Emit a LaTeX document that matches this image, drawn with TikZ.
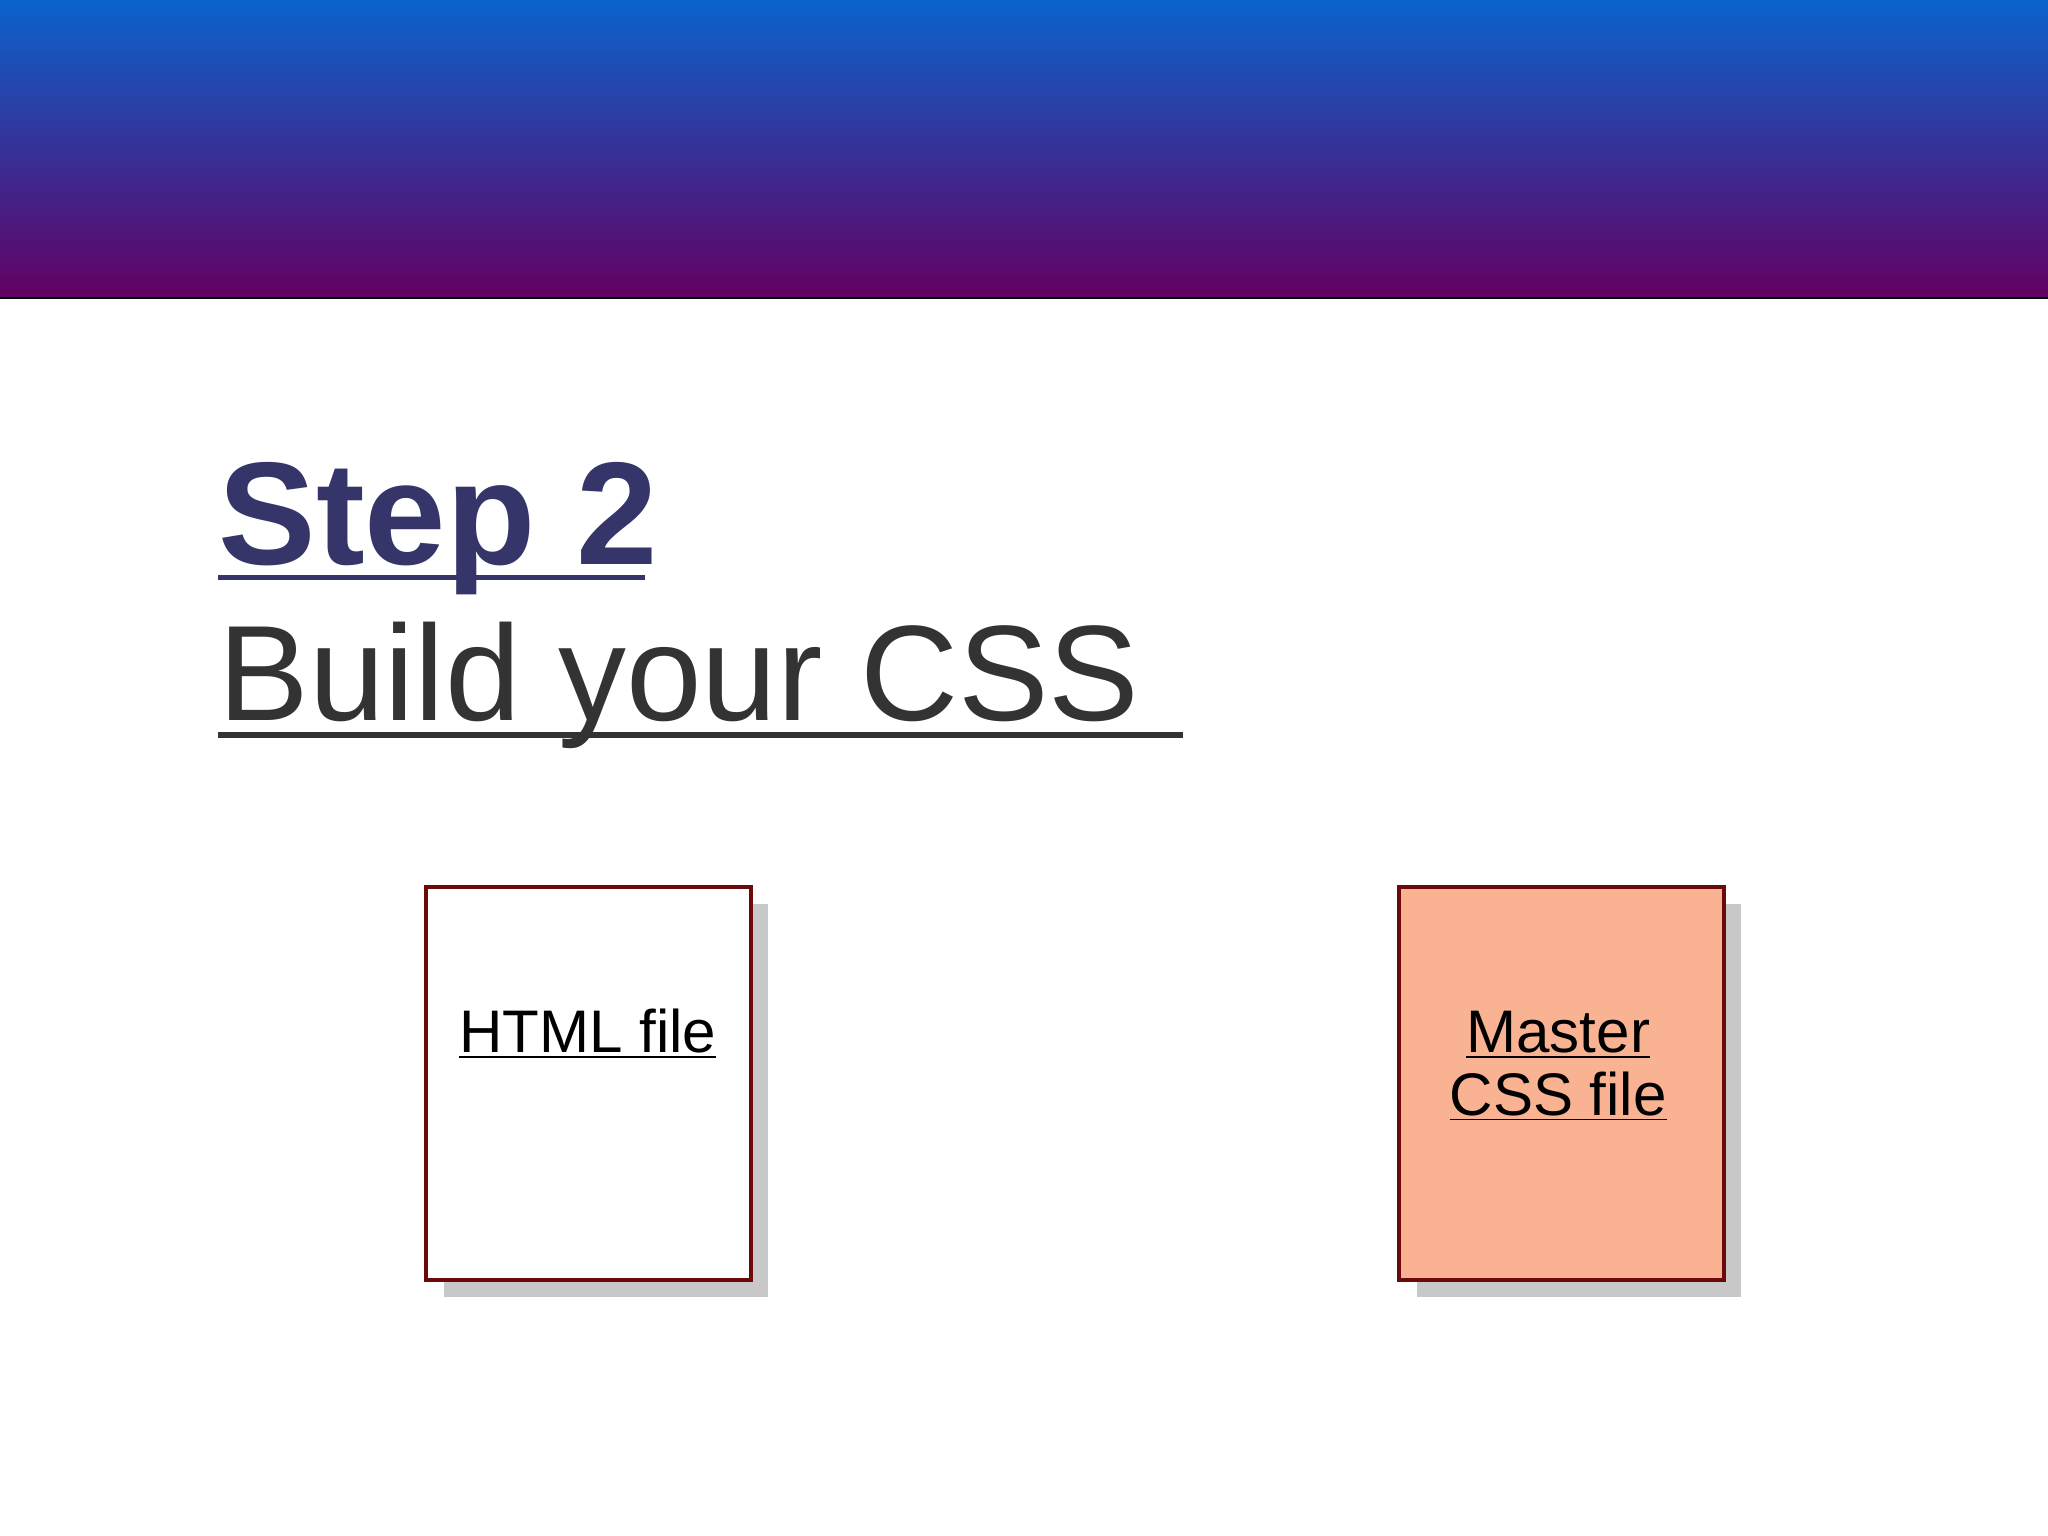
\documentclass[tikz,border=0pt]{standalone}
\usepackage{fontspec}
\setmainfont{Liberation Sans}
\begin{document}
\begin{tikzpicture}[x=0.5pt,y=-0.5pt,
  filebox/.style={draw=boxred,line width=1.6pt},
  shadowbox/.style={fill=shadowgray,draw=none},
  lbl/.style={font=\fontsize{23}{24}\selectfont,align=center,inner sep=0pt}]
\definecolor{topblue}{HTML}{0A63CC}
\definecolor{botpurple}{HTML}{630063}
\definecolor{stepcol}{HTML}{35356A}
\definecolor{titlecol}{HTML}{333333}
\definecolor{boxred}{HTML}{6B0A0A}
\definecolor{shadowgray}{HTML}{C8C8C8}
\definecolor{salmon}{HTML}{F9B393}
\useasboundingbox (0,0) rectangle (1568,1176);
\fill[white] (0,0) rectangle (1568,1176);
\shade[top color=topblue,bottom color=botpurple] (0,0) rectangle (1568,228);
\draw[line width=0.6pt] (0,228) -- (1568,228);
% titles
\node[anchor=base west,inner sep=0pt,text=stepcol,font=\bfseries\fontsize{56}{60}\selectfont] (step) at (167,432) {Step 2};
\draw[stepcol,line width=2pt] (167,442) -- (494,442);
\node[anchor=base west,inner sep=0pt,text=titlecol,font=\fontsize{52}{56}\selectfont] (build) at (167,552) {Build your CSS};
\draw[titlecol,line width=2.2pt] (167,563) -- (906,563);
% boxes
\fill[shadowgray] (340,692) rectangle (588,993);
\draw[filebox,fill=white] (326,679) rectangle (575,980);
\node[lbl,anchor=base] (html) at (450,806) {\underline{HTML file}};
\fill[shadowgray] (1085,692) rectangle (1333,993);
\draw[filebox,fill=salmon] (1071,679) rectangle (1320,980);
\node[lbl,anchor=base] (m1) at (1193,806) {\underline{Master}};
\node[lbl,anchor=base] (m2) at (1193,854) {\underline{CSS file}};
\end{tikzpicture}
\end{document}
